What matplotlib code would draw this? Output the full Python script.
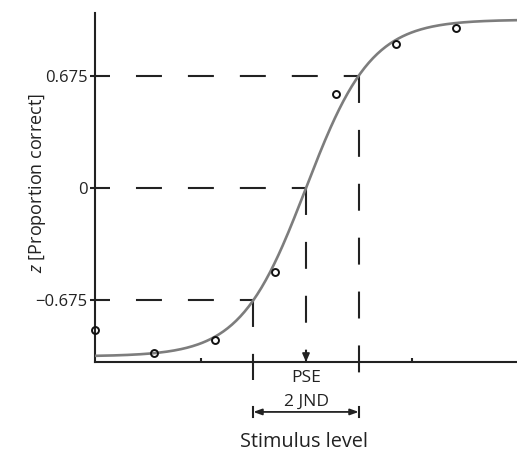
import numpy as np
import matplotlib
matplotlib.use("Agg")
import matplotlib.pyplot as plt

plt.rcParams['font.family'] = ['Open Sans', 'DejaVu Sans']
plt.rcParams['mathtext.fontset'] = 'custom'
plt.rcParams['mathtext.rm'] = 'Open Sans'
plt.rcParams['mathtext.it'] = 'Open Sans:italic'
plt.rcParams['lines.scale_dashes'] = False

# psychometric fit parameters
pse = 4.0
jnd = 1.0
z_jnd = 0.675
amp = 1.015
slope = 0.806

# observed points (stimulus level, z)
stim = [0.0, 1.11, 2.28, 3.42, 4.57, 5.70, 6.85]
zobs = [-0.856, -0.994, -0.916, -0.506, 0.567, 0.868, 0.964]

yticks = [-0.675, 0, 0.675]
ytick_labels = ['\u22120.675', '0', '0.675']

xs = np.linspace(0, 8, 300)
fit = amp * np.tanh(slope * (xs - pse) / jnd)

fig = plt.figure(figsize=(5.17, 4.54), dpi=100)
ax = fig.add_axes([95 / 517, 92 / 454, 422 / 517, 349 / 454])
ylo, yhi = -1.049, 1.055
ax.set_xlim(0, 8)
ax.set_ylim(ylo, yhi)

dash_col = '#222222'
# short first dash at the axis, then regular 26px dash / 26px gap
dash_h = (0, [10.8] + [18.7] * 11)
dash_v = (0, (19.4, 19.4))

# horizontal guides
for zz, xe in [(z_jnd, pse + jnd), (0, pse), (-z_jnd, pse - jnd)]:
    ax.plot([0, xe], [zz, zz], color=dash_col, lw=1.5, linestyle=dash_h,
            clip_on=False, zorder=2.5)

# vertical guides
ax.plot([pse + jnd, pse + jnd], [z_jnd, -1.115], color=dash_col, lw=1.5,
        linestyle=dash_v, clip_on=False)
ax.plot([pse - jnd, pse - jnd], [-z_jnd, -1.157], color=dash_col, lw=1.5,
        linestyle=dash_v, clip_on=False)
ax.plot([pse, pse], [0, ylo], color=dash_col, lw=1.5, linestyle=dash_v,
        clip_on=False)
ax.annotate('', xy=(pse, ylo), xytext=(pse, ylo + 0.06),
            arrowprops=dict(arrowstyle='-|>,head_length=0.5,head_width=0.22',
                            color=dash_col, lw=1.2, shrinkA=0, shrinkB=0))

ax.plot(xs, fit, color='#7d7d7d', lw=1.9, zorder=3)
ax.plot(stim, zobs, 'o', ms=5, mfc='none', mec='#111111', mew=1.4,
        clip_on=False, zorder=4)

# 2 JND arrow
ya = -1.35
ax.annotate('', xy=(pse - jnd, ya), xytext=(pse + jnd, ya),
            arrowprops=dict(arrowstyle='<|-|>,head_length=0.5,head_width=0.18',
                            color=dash_col, lw=1.3, shrinkA=0, shrinkB=0),
            annotation_clip=False)
for xb in [pse - jnd, pse + jnd]:
    ax.plot([xb, xb], [ya + 0.03, ya - 0.03], color=dash_col, lw=1.5,
            clip_on=False)

ax.text(pse, -1.145, 'PSE', ha='center', va='center', fontsize=12.5,
        color='#222222')
ax.text(pse, -1.29, '2 JND', ha='center', va='center', fontsize=12.5,
        color='#222222')

for s in ['top', 'right']:
    ax.spines[s].set_visible(False)
for s in ['left', 'bottom']:
    ax.spines[s].set_linewidth(1.5)
    ax.spines[s].set_color('#222222')

ax.set_yticks(yticks)
ax.set_yticklabels(ytick_labels, fontsize=12, color='#222222')
ax.tick_params(axis='y', length=3.5, width=1.5, pad=2, color='#222222')
ax.set_xticks([2, 6])
ax.set_xticklabels([])
ax.tick_params(axis='x', direction='in', length=3, width=1.5, color='#222222')

ax.set_xlabel('Stimulus level', fontsize=14.3, color='#222222')
ax.xaxis.set_label_coords(0.495, -0.2)
ax.set_ylabel('$z$ [Proportion correct]', fontsize=13, color='#222222')
ax.yaxis.set_label_coords(-0.111, 0.513)

fig.savefig('out.png', dpi=100)
